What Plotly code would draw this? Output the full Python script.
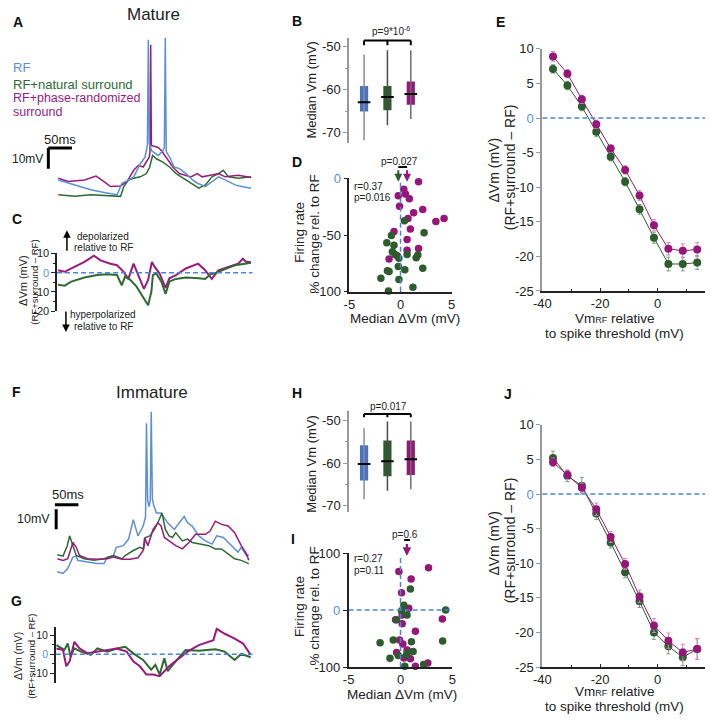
import plotly.graph_objects as go

W, H = 709, 723
FONT = "Liberation Sans, Arial, sans-serif"

BLUE_T = '#5B8FD6'
GREEN_T = '#2E6B31'
MAG_T = '#9A1A7E'
BLUE_B = '#4A72C4'
GREEN_B = '#2D5C2D'
MAG_B = '#961779'
DASH = '#4A86D4'
GREEN_ERR = '#7F9F7F'
MAG_ERR = '#CC88BE'

# ---------------- DATA ----------------
# Panel A (mature example traces), time ms, Vm mV
A_RF = [(0, -62.8), (35, -65.2), (69, -67.6), (100, -69.0), (125, -70.0), (135, -64.4), (148, -63.0),
        (160, -61.3), (174, -54.9), (184, -51.7), (189, -46), (191, 5.4), (193, -45), (198, -48.6),
        (212, -50.9), (222, -48.6), (225, -47), (227, 6.2), (229, -49), (236, -51.7), (246, -56.5),
        (257, -57.3), (271, -59.7), (285, -62.8), (295, -64.4), (312, -66.0), (326, -63.6),
        (340, -61.3), (354, -62.8), (375, -65.2), (389, -66.0), (409, -66.8)]
A_NAT = [(0, -70.0), (35, -70.8), (69, -70.0), (104, -70.5), (132, -70.8), (139, -66.0), (149, -62.8),
         (160, -62.0), (174, -61.3), (187, -59.7), (194, -56.5), (200, -50.9), (208, -52.5),
         (222, -54.1), (236, -56.5), (250, -59.7), (271, -62.8), (285, -65.2), (298, -66.8),
         (312, -65.2), (326, -61.3), (340, -59.7), (350, -58.1), (361, -61.3), (382, -62.0), (409, -61.3)]
A_PH = [(0, -62.0), (21, -63.6), (56, -62.8), (80, -60.9), (97, -63.6), (111, -66.0), (132, -65.7),
        (146, -63.6), (160, -58.1), (170, -55.7), (180, -56.5), (187, -54.1), (193, -51.7),
        (194.5, -49), (196, 3.0), (197.5, -46), (201, -46.2), (212, -47.0), (219, -48.6),
        (229, -51.7), (243, -56.5), (257, -59.7), (271, -60.5), (281, -61.3), (295, -59.7),
        (305, -61.3), (323, -60.5), (340, -59.7), (354, -61.3), (382, -60.5), (409, -61.6)]

# Panel C (mature dVm), ms, mV
C_NAT = [(0, -6.2), (14, -6.7), (28, -4.6), (56, -2.5), (83, -1.2), (104, -0.8), (125, -1.2), (135, -6.6),
         (142, -2.0), (153, -3.7), (166, -7.1), (180, -13.0), (191, -16.9), (198, -9.6), (201, -1.2),
         (208, -0.3), (219, -4.6), (228, -11.0), (236, -4.6), (250, -3.2), (271, -2.5), (298, -2.9),
         (312, -3.2), (323, -0.8), (333, -0.3), (354, 1.9), (375, 3.9), (396, 4.7), (409, 5.2)]
C_PH = [(0, 1.3), (14, 0.5), (25, 1.9), (35, 3.0), (56, 5.6), (76, 8.9), (90, 6.4), (111, 4.7), (125, 3.9),
        (139, 0.5), (149, -3.2), (160, 4.7), (170, -1.2), (182, -8.4), (191, -3.7), (199, 5.6),
        (205, 3.0), (215, -0.3), (228, -7.9), (236, -2.9), (250, -1.2), (271, 2.2), (297, 4.7),
        (312, 1.3), (326, -3.2), (340, 1.3), (361, 3.0), (382, 4.7), (392, 7.3), (399, 5.6), (409, 5.6)]

# Panel F (immature example traces)
F_RF = [(2, -69.4), (14, -70.2), (24, -67.8), (35, -62.1), (42, -61.6), (45, -63.7), (66, -64.5),
        (87, -65.3), (101, -65.3), (108, -62.1), (121, -61.3), (127, -57.2), (142, -56.4), (153, -53.1),
        (163, -43.4), (173, -51.5), (184, -46.6), (189, -42), (191, 4.6), (193.5, -34), (196.5, -37),
        (199, -34), (201, 10.3), (203.5, -33), (206, -36), (212, -40.1), (222, -40.1), (236, -45.0),
        (250, -48.3), (260, -45.0), (271, -41.8), (278, -45.0), (288, -46.6), (302, -51.5),
        (316, -54.0), (330, -55.6), (340, -51.5), (354, -52.3), (371, -56.4), (385, -59.6),
        (392, -57.2), (403, -61.3), (408, -60.9)]
F_NAT = [(2, -60.9), (14, -61.6), (23, -56.4), (28, -51.5), (35, -56.4), (42, -61.3), (59, -62.9),
         (80, -63.7), (101, -62.9), (121, -61.3), (139, -62.9), (146, -61.3), (163, -58.8), (177, -57.2),
         (185, -58.0), (189, -52.3), (198, -51.5), (208, -48.3), (215, -45.0), (224, -40.1),
         (231, -48.3), (239, -51.5), (246, -52.3), (253, -49.9), (267, -54.0), (278, -53.1),
         (288, -54.8), (309, -55.6), (323, -56.4), (337, -58.0), (350, -58.0), (364, -60.5),
         (378, -62.9), (392, -63.7), (408, -65.3)]
F_PH = [(2, -62.9), (14, -63.7), (24, -62.9), (35, -54.8), (42, -57.2), (49, -61.3), (66, -62.9),
        (87, -63.2), (108, -62.9), (121, -62.1), (139, -63.2), (156, -63.2), (173, -62.4), (184, -58.8),
        (187, -52.3), (194, -56.4), (205, -48.3), (215, -45.0), (222, -46.6), (229, -52.3),
        (239, -54.0), (253, -56.4), (267, -58.0), (281, -54.8), (295, -50.7), (316, -50.7),
        (326, -49.1), (337, -44.2), (350, -45.8), (364, -46.6), (378, -49.9), (392, -56.4),
        (403, -60.5), (408, -63.7)]

# Panel G (immature dVm)
G_PH = [(0, 3.1), (14, 2.3), (21, -6.4), (28, -3.8), (38, 6.6), (49, 3.1), (66, 0.5), (87, 1.4), (108, 2.3),
        (128, 3.1), (149, 1.4), (163, -3.8), (177, -6.4), (191, -10.8), (205, -10.8), (219, -11.6),
        (239, -6.4), (260, -2.1), (278, 1.4), (302, 4.9), (323, 6.6), (333, 7.5), (340, 13.5),
        (357, 10.9), (378, 8.3), (396, 5.7), (412, -0.3)]
G_NAT = [(0, 4.9), (10, 3.1), (17, 2.3), (24, 5.7), (30, -1.2), (38, 3.1), (52, 1.4), (73, -0.3), (87, 3.1),
         (108, 1.4), (128, 3.1), (146, 4.0), (163, 0.5), (184, -3.0), (201, -8.2), (210, -5.6),
         (219, -10.8), (229, -2.1), (236, -9.0), (253, -3.8), (274, 2.3), (302, 1.9), (337, 2.6),
         (357, 1.4), (378, -3.0), (392, 0.2), (412, -1.6)]

# Panels B / H: box statistics (RF, natural, phase-randomized)
BOX_POS = [1, 2, 3]
B_LO = [-71.8, -68.3, -66.8]
B_Q1 = [-65.1, -64.8, -63.5]
B_MED = [-62.9, -61.7, -61.0]
B_Q3 = [-59.1, -59.1, -58.1]
B_HI = [-51.8, -50.8, -50.8]
H_LO = [-68.5, -66.5, -66.2]
H_Q1 = [-64.1, -63.1, -62.8]
H_MED = [-60.2, -59.6, -59.1]
H_Q3 = [-55.8, -54.7, -54.7]
H_HI = [-51.8, -50.2, -50.2]

# Panel D scatter (median dVm, firing-rate % change)
D_PH_X = [1.76, 0.32, -0.22, 0.48, 0.86, -0.10, 2.17, 1.28, 0.73, 3.45, 4.25, 0.96, -0.64, 0.64, 1.76, 0.64, -1.12, -0.32]
D_PH_Y = [-2.9, -9.5, -15.3, -13.8, -17.9, -24.5, -27.4, -30.3, -35.4, -38.0, -35.4, -44.7, -47.0, -53.9, -62.0, -63.4, -71.2, -68.3]
D_NAT_X = [0.38, -0.89, 2.30, -1.34, -0.64, -0.80, -0.54, 0.64, 1.69, 1.53, -0.16, -1.28, -1.12, -0.22, 0.42, 2.17, -0.16, -1.92, -1.18, 1.21]
D_NAT_Y = [-37.5, -50.4, -48.1, -56.8, -59.1, -64.8, -67.1, -67.1, -67.7, -70.0, -70.6, -81.6, -82.1, -77.8, -80.7, -79.3, -89.3, -88.2, -99.4, -96.0]
D_MEAN_NAT, D_MEAN_PH = -0.22, 0.64

# Panel I scatter
I_PH_X = [-0.16, 1.02, 2.70, 0.10, 0.79, 0.16, -0.48, 0.16, 4.03, 1.43, -0.10, 0.22, 0.63, 0.32, 0.95, 1.43, 2.63, -0.38]
I_PH_Y = [67.6, 54.4, 74.5, 30.4, 3.4, -8.6, -17.2, -24.1, -15.5, -37.2, -52.7, -59.6, -69.9, -84.2, -85.4, -98.6, -92.8, -74.5]
I_NAT_X = [0.95, 0.32, 0.10, 0.63, -0.38, 4.35, 4.06, -0.70, -1.97, 1.05, 1.21, 0.63, 0.57, -0.22, -1.02, 0.41, 2.22]
I_NAT_Y = [37.2, 8.6, -1.1, -8.6, -17.2, 0.0, -54.4, -52.7, -57.3, -55.6, -72.8, -75.6, -80.2, -79.7, -84.8, -98.6, -95.7]
I_MEAN_NAT, I_MEAN_PH = 0.60, 0.63

# Panels E / J: dVm vs Vm_RF relative to threshold
BIN_X = [-36.3, -31.3, -26.3, -21.3, -16.3, -11.3, -6.3, -1.3, 3.7, 8.7, 13.7]
E_PH = [8.9, 6.4, 2.7, -0.9, -4.4, -7.5, -11.2, -15.5, -18.9, -19.2, -19.0]
E_PH_ERR = [0.7, 0.6, 0.6, 0.6, 0.5, 0.6, 0.7, 0.8, 0.9, 1.0, 1.0]
E_NAT = [7.1, 4.7, 1.65, -2.0, -5.6, -9.2, -13.2, -17.3, -21.1, -21.1, -20.9]
E_NAT_ERR = [0.6, 0.6, 0.6, 0.7, 0.6, 0.6, 0.7, 0.8, 1.0, 1.0, 1.0]
J_PH = [4.6, 2.8, 0.9, -2.2, -6.2, -10.1, -14.8, -19.0, -21.2, -22.9, -22.4]
J_PH_ERR = [0.6, 0.7, 0.7, 0.9, 0.8, 0.8, 0.9, 1.0, 1.1, 1.2, 1.5]
J_NAT = [5.2, 2.6, 1.2, -2.8, -7.0, -11.3, -15.5, -20.0, -22.0, -23.6, -22.4]
J_NAT_ERR = [1.0, 0.8, 1.2, 0.9, 0.8, 0.8, 0.9, 1.0, 1.1, 1.2, 1.5]

# scale bars
SCALE_MS, SCALE_MV = 50, 10


def fx(px):
    return px / W


def fy(py):
    return 1 - py / H


def xdom(a, b):
    return [a / W, b / W]


def ydom(a, b):
    return [1 - b / H, 1 - a / H]


def unzip(pairs):
    return [p[0] for p in pairs], [p[1] for p in pairs]


fig = go.Figure()


def line_trace(pairs, color, ax, width=1.5):
    t, v = unzip(pairs)
    fig.add_trace(go.Scatter(x=t, y=v, mode='lines', line=dict(color=color, width=width),
                             xaxis='x' + ax, yaxis='y' + ax, hoverinfo='skip', cliponaxis=False))


# A
line_trace(A_NAT, GREEN_T, '')
line_trace(A_PH, MAG_T, '')
line_trace(A_RF, BLUE_T, '')
# C
line_trace(C_PH, MAG_T, '3', 2)
line_trace(C_NAT, GREEN_T, '3', 2)
# F
line_trace(F_RF, BLUE_T, '6')
line_trace(F_NAT, GREEN_T, '6')
line_trace(F_PH, MAG_T, '6')
# G
line_trace(G_NAT, GREEN_T, '8', 2)
line_trace(G_PH, MAG_T, '8', 2)

# Boxes B (axis 2) and H (axis 7)
WHISK = ['#8C8C8C', '#4A4A4A', '#6E6E6E']
for ax, lo, q1, med, q3, hi in [('2', B_LO, B_Q1, B_MED, B_Q3, B_HI), ('7', H_LO, H_Q1, H_MED, H_Q3, H_HI)]:
    for i, p in enumerate(BOX_POS):
        fig.add_trace(go.Scatter(x=[p, p], y=[lo[i], hi[i]], mode='lines',
                                 line=dict(color=WHISK[i], width=1.5), xaxis='x' + ax, yaxis='y' + ax,
                                 hoverinfo='skip'))
    fig.add_trace(go.Bar(x=BOX_POS, y=[b - a for a, b in zip(q1, q3)], base=q1, width=0.35,
                         marker=dict(color=[BLUE_B, GREEN_B, MAG_B], line=dict(width=0)),
                         xaxis='x' + ax, yaxis='y' + ax, hoverinfo='skip'))
    fig.add_trace(go.Scatter(x=BOX_POS, y=med, mode='markers',
                             marker=dict(symbol='line-ew', size=9, line=dict(width=2, color='black')),
                             xaxis='x' + ax, yaxis='y' + ax, hoverinfo='skip'))

# Scatter D (4) and I (9)
for ax, nx, ny, px_, py_ in [('4', D_NAT_X, D_NAT_Y, D_PH_X, D_PH_Y), ('9', I_NAT_X, I_NAT_Y, I_PH_X, I_PH_Y)]:
    fig.add_trace(go.Scatter(x=px_, y=py_, mode='markers', marker=dict(color=MAG_B, size=7.5),
                             xaxis='x' + ax, yaxis='y' + ax, cliponaxis=False, hoverinfo='skip'))
    fig.add_trace(go.Scatter(x=nx, y=ny, mode='markers', marker=dict(color=GREEN_B, size=7.5),
                             xaxis='x' + ax, yaxis='y' + ax, cliponaxis=False, hoverinfo='skip'))

# E (5) and J (10)
for ax, nat, nerr, ph, perr in [('5', E_NAT, E_NAT_ERR, E_PH, E_PH_ERR), ('10', J_NAT, J_NAT_ERR, J_PH, J_PH_ERR)]:
    fig.add_trace(go.Scatter(x=BIN_X, y=nat, mode='lines+markers',
                             line=dict(color=GREEN_B, width=1), marker=dict(color=GREEN_B, size=8),
                             error_y=dict(type='data', array=nerr, color=GREEN_ERR, thickness=1, width=2),
                             xaxis='x' + ax, yaxis='y' + ax, cliponaxis=False, hoverinfo='skip'))
    fig.add_trace(go.Scatter(x=BIN_X, y=ph, mode='lines+markers',
                             line=dict(color=MAG_B, width=1), marker=dict(color=MAG_B, size=8),
                             error_y=dict(type='data', array=perr, color=MAG_ERR, thickness=1, width=2),
                             xaxis='x' + ax, yaxis='y' + ax, cliponaxis=False, hoverinfo='skip'))

ZERO_BLUE = '<span style="color:%s">0</span>' % BLUE_T


def yax(anchor, dom, rng, vals, text, size, lc='#222', minor=None, lw=1.5):
    d = dict(anchor=anchor, domain=dom, range=rng, showline=True, linecolor=lc, linewidth=lw,
             ticks='outside', ticklen=4, tickwidth=1, tickcolor=lc, tickvals=vals, ticktext=text,
             tickfont=dict(size=size, color='#222'), showgrid=False, zeroline=False, fixedrange=True)
    if minor:
        d['minor'] = dict(tickvals=minor, ticks='outside', ticklen=2.5, tickcolor=lc, tickwidth=1)
    return d


def xax(anchor, dom, rng, vals=None, size=13, lc='#222', minor=None, visible=True):
    if not visible:
        return dict(anchor=anchor, domain=dom, range=rng, visible=False, fixedrange=True)
    d = dict(anchor=anchor, domain=dom, range=rng, showline=True, linecolor=lc, linewidth=1.5,
             ticks='inside', ticklen=3, tickwidth=1, tickcolor=lc, tickvals=vals,
             ticktext=[str(v) for v in vals],
             tickfont=dict(size=size, color='#222'), showgrid=False, zeroline=False, fixedrange=True)
    if minor:
        d['minor'] = dict(tickvals=minor, ticks='inside', ticklen=2, tickcolor=lc, tickwidth=1)
    return d


layout = dict(
    width=W, height=H, margin=dict(l=0, r=0, t=0, b=0), autosize=False,
    paper_bgcolor='white', plot_bgcolor='rgba(0,0,0,0)', showlegend=False,
    font=dict(family=FONT, color='#222'),
    xaxis=xax('y', xdom(30, 250), [-42, 416], visible=False),
    yaxis=dict(anchor='x', domain=ydom(28, 198), range=[-73, 8], visible=False, fixedrange=True),
    xaxis2=xax('y2', xdom(346.7, 425), [0.37, 3.66], visible=False),
    yaxis2=yax('x2', ydom(32, 139.2), [-72.5, -48], [-70, -60, -50], ['-70', '-60', '-50'], 13,
               lc='#999', minor=[-65, -55], lw=2),
    xaxis3=xax('y3', xdom(49, 250), [-2.1, 416.4], visible=False),
    yaxis3=yax('x3', ydom(251.7, 310.7), [-20, 10], [-20, -10, 0, 10], ['-20', '-10', ZERO_BLUE, '10'], 11,
               minor=[-15, -5, 5]),
    xaxis4=xax('y4', xdom(346.7, 451), [-5, 5], [-5, 0, 5], 13),
    yaxis4=yax('x4', ydom(175, 290.7), [-100, 0], [-100, -50, 0], ['-100', '-50', ZERO_BLUE], 13),
    xaxis5=xax('y5', xdom(543.3, 709), [-40, 16.4], [-40, -20, 0], 13, minor=[-30, -10, 10]),
    yaxis5=yax('x5', ydom(42.7, 290), [-25, 10], [-25, -20, -15, -10, -5, 0, 5, 10],
               ['-25', '-20', '-15', '-10', '-5', ZERO_BLUE, '5', '10'], 13, lc='#999', lw=2),
    xaxis6=xax('y6', xdom(30, 250), [-38.1, 419.9], visible=False),
    yaxis6=dict(anchor='x6', domain=ydom(405, 582), range=[-71.95, 14.35], visible=False, fixedrange=True),
    xaxis7=xax('y7', xdom(346.7, 425), [0.37, 3.66], visible=False),
    yaxis7=yax('x7', ydom(413, 516), [-71.6, -47.85], [-70, -60, -50], ['-70', '-60', '-50'], 13,
               lc='#999', minor=[-65, -55], lw=2),
    xaxis8=xax('y8', xdom(47.7, 250), [-1.25, 420], visible=False),
    yaxis8=yax('x8', ydom(633.3, 690), [-15.1, 14.4], [-10, 0, 10], ['-10', ZERO_BLUE, '10'], 10.5,
               minor=[-5, 5]),
    xaxis9=xax('y9', xdom(346, 451.7), [-5, 5], [-5, 0, 5], 13),
    yaxis9=yax('x9', ydom(557.7, 674), [-100, 100], [-100, 0, 100], ['-100', ZERO_BLUE, '100'], 13),
    xaxis10=xax('y10', xdom(543.3, 709), [-40, 16.4], [-40, -20, 0], 13, minor=[-30, -10, 10]),
    yaxis10=yax('x10', ydom(426.7, 674), [-25, 10], [-25, -20, -15, -10, -5, 0, 5, 10],
                ['-25', '-20', '-15', '-10', '-5', ZERO_BLUE, '5', '10'], 13, lc='#999', lw=2),
)

shapes = []


def seg(xref, yref, x0, y0, x1, y1, color='black', width=1.5, dash=None):
    d = dict(type='line', xref=xref, yref=yref, x0=x0, y0=y0, x1=x1, y1=y1,
             line=dict(color=color, width=width))
    if dash:
        d['line']['dash'] = dash
    shapes.append(d)


# scale bars A
A_BAR_T0, A_BAR_V0 = -21, -47.3
seg('x', 'y', A_BAR_T0, A_BAR_V0, A_BAR_T0 + SCALE_MS, A_BAR_V0, width=3)
seg('x', 'y', A_BAR_T0, A_BAR_V0, A_BAR_T0, A_BAR_V0 - SCALE_MV, width=3)
# scale bars F
F_BAR_T0, F_BAR_V0 = -3.3, -36.0
seg('x6', 'y6', F_BAR_T0, F_BAR_V0, F_BAR_T0 + SCALE_MS, F_BAR_V0, width=3)
seg('x6', 'y6', -0.5, F_BAR_V0 - 2.2, -0.5, F_BAR_V0 - 2.2 - SCALE_MV, width=3)

# zero lines
DP = '5px,3px'
seg('x3 domain', 'y3', 0, 0, 0.99, 0, DASH, 1.5, DP)
seg('x8 domain', 'y8', 0, 0, 0.99, 0, DASH, 1.5, DP)
seg('x5 domain', 'y5', 0, 0, 1, 0, DASH, 1.5, DP)
seg('x10 domain', 'y10', 0, 0, 1, 0, DASH, 1.5, DP)
seg('x4', 'y4', 0, -100, 0, -3, DASH, 1.5, DP)
seg('x9', 'y9', 0, -100, 0, 95, DASH, 1.5, DP)
seg('x9', 'y9', -5, 0, 5, 0, DASH, 1.5, DP)

# significance brackets B / H
for ax, ytop, ytick in [('2', -48.5, -49.6), ('7', -48.48, -49.24)]:
    seg('x' + ax, 'y' + ax, 1, ytop, 3, ytop, width=2)
    for p in BOX_POS:
        seg('x' + ax, 'y' + ax, p, ytop, p, ytick, width=2)
# bars over arrows D / I
seg('x4', 'paper', D_MEAN_NAT, fy(163.3), D_MEAN_PH, fy(163.3), width=2)
seg('x9', 'paper', 0.35, fy(544.3), 0.9, fy(544.3), width=2)

ann = []


def txt(px, py, s, size, color='#222', xanchor='center', angle=0, bold=False):
    if bold:
        s = '<b>%s</b>' % s
    ann.append(dict(x=fx(px), y=fy(py), xref='paper', yref='paper', text=s, showarrow=False,
                    font=dict(size=size, color=color, family=FONT), xanchor=xanchor, yanchor='middle',
                    textangle=angle))


def arrow(px, py, ay, color='black', width=1.5):
    ann.append(dict(x=fx(px), y=fy(py), xref='paper', yref='paper', text='', showarrow=True,
                    ax=0, ay=ay, arrowhead=2, arrowsize=1, arrowwidth=width, arrowcolor=color))


def data_arrow(ax, x, y, color):
    ann.append(dict(x=x, y=y, xref='x' + ax, yref='y' + ax, text='', showarrow=True,
                    ax=0, ay=-13, arrowhead=2, arrowsize=0.8, arrowwidth=2, arrowcolor=color))


# panel letters
for L, px, py in [('A', 9, 15), ('B', 293, 14), ('C', 8, 217), ('D', 293, 158), ('E', 501, 15),
                  ('F', 8, 393), ('G', 8, 607), ('H', 293, 394), ('I', 289, 543), ('J', 508, 395)]:
    txt(px, py, L, 14, '#111', bold=True)

txt(147, 8, 'Mature', 17)
txt(146, 394, 'Immature', 17)

# legend A
txt(2, 62, 'RF', 13, BLUE_T, 'left')
txt(2, 79, 'RF+natural surround', 13, GREEN_T, 'left')
txt(2, 92.5, 'RF+phase-randomized', 12.5, MAG_T, 'left')
txt(2, 107.5, 'surround', 12.5, MAG_T, 'left')

# scale bar labels
txt(52, 135, '50ms', 13)
txt(19, 155, '10mV', 12)
txt(60, 498, '50ms', 13)
txt(25, 523, '10mV', 12.5)

# C labels
txt(96, 234, 'depolarized', 10)
txt(96, 246, 'relative to RF', 10)
txt(96, 314, 'hyperpolarized', 10)
txt(96, 326, 'relative to RF', 10)
arrow(59, 228, 22)
arrow(58, 332, -22)
txt(14, 279, 'ΔVm (mV)', 11, angle=-90)
txt(26, 281, '(RF+surround – RF)', 9.5, angle=-90)
# G labels
txt(9, 663, 'ΔVm (mV)', 10.5, angle=-90)
txt(23, 663, '(RF+surround – RF)', 9.5, angle=-90)

# B / H labels
txt(308, 84, 'Median Vm (mV)', 13, angle=-90)
txt(308, 466, 'Median Vm (mV)', 13, angle=-90)
txt(389, 25, 'p=9*10<sup>-6</sup>', 10)
txt(387, 408, 'p=0.017', 10)

# D labels
txt(296, 230, 'Firing rate', 13.5, angle=-90)
txt(311, 232, '% change rel. to RF', 13.5, angle=-90)
txt(403, 318, 'Median ΔVm (mV)', 13.5)
txt(398, 157.5, 'p=0.027', 10)
txt(349, 183, 'r=0.37', 10, xanchor='left')
txt(349, 195, 'p=0.016', 10, xanchor='left')
data_arrow('4', D_MEAN_NAT, -3, GREEN_B)
data_arrow('4', D_MEAN_PH, -3, MAG_B)

# I labels
txt(296, 612, 'Firing rate', 13.5, angle=-90)
txt(311, 612, '% change rel. to RF', 13.5, angle=-90)
txt(400, 702, 'Median ΔVm (mV)', 13.5)
txt(403, 539, 'p=0.6', 10)
txt(349, 563, 'r=0.27', 10, xanchor='left')
txt(349, 575, 'p=0.11', 10, xanchor='left')
data_arrow('9', I_MEAN_NAT, 96, GREEN_B)
data_arrow('9', I_MEAN_PH, 96, MAG_B)

# E / J labels
XT1 = 'Vm<span style="font-size:9px">RF</span> relative'
for base in (0, 381):
    txt(494, 166 + base, 'ΔVm (mV)', 14, angle=-90)
    txt(510, 164 + base, '(RF+surround – RF)', 14, angle=-90)
    txt(617, 318 + base, XT1, 13.5)
    txt(617, 333.5 + base, 'to spike threshold (mV)', 13.5)

layout['shapes'] = shapes
layout['annotations'] = ann
fig.update_layout(**layout)
fig.write_html('out.html', config={'displayModeBar': False, 'responsive': False},
               post_script="document.body.style.margin='0';document.body.style.overflow='hidden';")
